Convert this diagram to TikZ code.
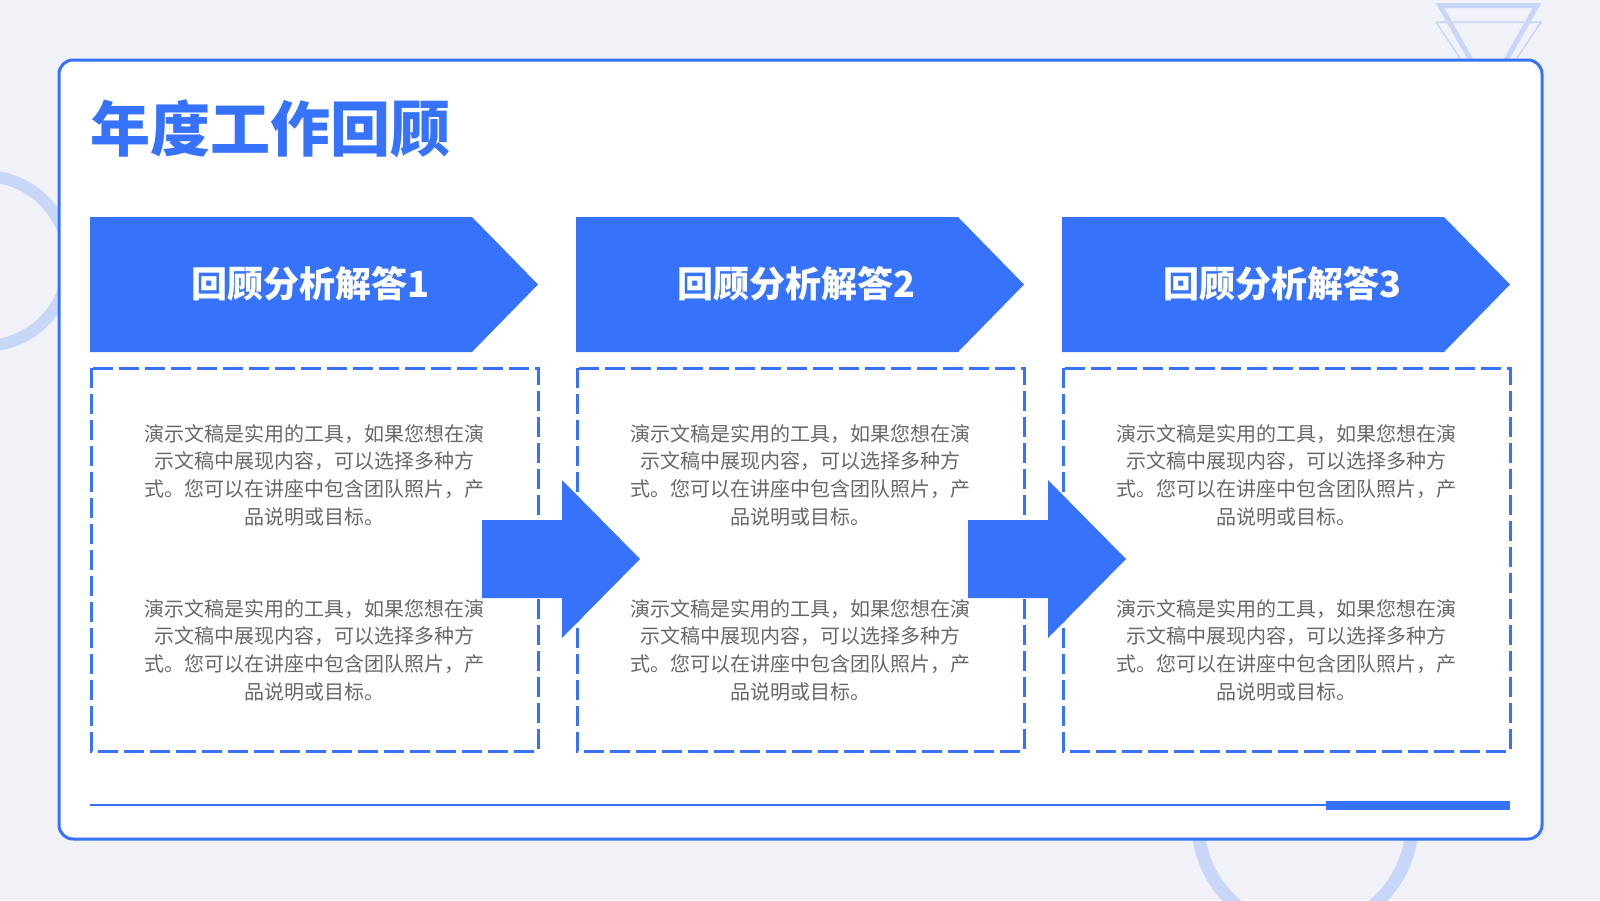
\documentclass[tikz,border=0pt]{standalone}
\usepackage{fontspec}
\newfontfamily\cjk{Noto Sans CJK SC}
\definecolor{mainblue}{HTML}{3672FA}
\definecolor{paleblue}{HTML}{C8D7F7}
\definecolor{bggray}{HTML}{F0F2F7}
\definecolor{txtgray}{HTML}{686868}
\tikzset{
  card/.style={draw=mainblue, line width=3pt, fill=white, rounded corners=14pt},
  ring/.style={draw=paleblue, line width=12pt},
  chevron/.style={fill=mainblue},
  dashbox/.style={draw=mainblue, line width=3pt, dash pattern=on 20pt off 6pt},
  headtext/.style={text=white, font=\cjk\bfseries\fontsize{36}{40}\selectfont},
  bodytext/.style={text=txtgray, font=\cjk\fontsize{20}{27.7}\selectfont, align=center},
  titletext/.style={text=mainblue, font=\cjk\bfseries\fontsize{60}{70}\selectfont},
}
\newcommand{\notetext}{演示文稿是实用的工具，如果您想在演\\示文稿中展现内容，可以选择多种方\\式。您可以在讲座中包含团队照片，产\\品说明或目标。}
\begin{document}
\begin{tikzpicture}[x=1pt,y=-1pt]

% \draw[step=50,gray,very thin] (0,0) grid (1600,900);
        \fill[bggray] (0,0) rectangle (1600,900);
        \useasboundingbox (0,0) rectangle (1600,900);

        % decorations behind the card
        \draw[ring] (-16,261) circle (85);
        \draw[ring,line width=13pt] (1305,823) circle (107);
        \draw[paleblue,line width=5pt] (1440,5.5) -- (1537,5.5) -- (1488.5,91) -- cycle;
        \draw[paleblue,line width=1.5pt] (1436,22) -- (1541,22) -- (1488.5,101) -- cycle;

        \draw[card] (59,60) rectangle (1542,839);
        \node[titletext] (title) at (270,129) {年度工作回顾};

        \foreach \i/\n in {0/1,1/2,2/3}{
          \begin{scope}[xshift=\i*486]
            \fill[chevron] (90,217) -- (472,217) -- (538,284.5) -- (472,352) -- (90,352) -- cycle;
            \node[headtext] (head\n) at (310,284) {回顾分析解答\n};
            \draw[dashbox] (91,368) rectangle (538,751);
            \node[bodytext] (noteA\n) at (314,475) {\notetext};
            \node[bodytext] (noteB\n) at (314,650) {\notetext};
          \end{scope}
        }

        % big arrows between the boxes
        \foreach \i in {0,1}
          \fill[mainblue,xshift=\i*486] (482,520) -- (562,520) -- (562,480) -- (640,559)
                -- (562,638) -- (562,598) -- (482,598) -- cycle;

        \draw[mainblue,line width=2.5pt] (90,805) -- (1328,805);
        \fill[mainblue] (1326,801) rectangle (1510,810);

    \end{tikzpicture}
\end{document}
